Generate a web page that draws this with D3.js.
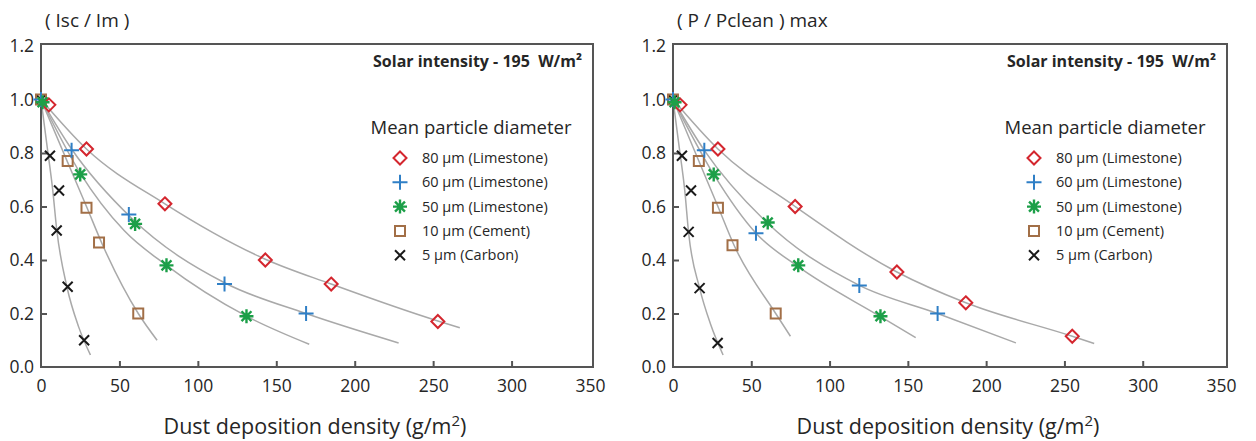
<!DOCTYPE html>
<html>
<head>
<meta charset="utf-8">
<script src="https://cdn.jsdelivr.net/npm/d3@7"></script>
<style>
  body { margin: 0; background: #fff; }
  text { font-family: "Open Sans", sans-serif; fill: #262626; }
</style>
</head>
<body>
<svg id="chart" width="1256" height="441"></svg>
<script>
// series, in legend order
const seriesLabels = ['80 µm (Limestone)', '60 µm (Limestone)', '50 µm (Limestone)', '10 µm (Cement)', '5 µm (Carbon)']
const seriesColors = ['#d4262e', '#2f7fc6', '#1c9f48', '#a26f47', '#1a1a1a']
const seriesShapes = ['diamond', 'plus', 'star', 'square', 'cross']

const xTicks = [0, 50, 100, 150, 200, 250, 300, 350]
const yTicks = [0, 0.2, 0.4, 0.6, 0.8, 1.0, 1.2]

// left panel: Isc / Im measured points
const iscMarkers = [
    [[5, 0.98], [29, 0.815], [79, 0.61], [143, 0.40], [185, 0.31], [253, 0.17]],
    [[0, 1.0], [19.5, 0.81], [56, 0.57], [117, 0.31], [169, 0.20]],
    [[1, 0.99], [25, 0.72], [60, 0.535], [80, 0.38], [131, 0.19]],
    [[0, 1.0], [17, 0.77], [29, 0.595], [37, 0.465], [62, 0.20]],
    [[0, 1.0], [5.7, 0.79], [11.5, 0.66], [10, 0.51], [17, 0.30], [27.5, 0.10]]
]
// left panel: fitted grey curves
const iscFits = [
    [[0, 1], [29, 0.815], [79, 0.61], [143, 0.403], [185, 0.31], [253, 0.172], [267, 0.147]],
    [[0, 1], [19.5, 0.815], [58, 0.555], [117, 0.315], [169, 0.20], [228, 0.09]],
    [[0, 1], [25, 0.725], [53, 0.51], [80, 0.38], [131, 0.19], [171, 0.085]],
    [[0, 1], [17, 0.765], [29, 0.6], [39, 0.46], [62, 0.2], [74, 0.1]],
    [[0, 1], [4, 0.82], [7.5, 0.66], [10, 0.515], [16.5, 0.30], [24, 0.15], [31.5, 0.045]]
]

// right panel: (P / Pclean) max measured points
const powerMarkers = [
    [[4.5, 0.98], [28.7, 0.815], [78, 0.60], [143, 0.355], [187, 0.24], [255, 0.115]],
    [[0, 1.0], [20, 0.81], [53, 0.50], [119, 0.305], [169, 0.20]],
    [[1, 0.99], [26, 0.72], [60.5, 0.54], [80, 0.38], [132.5, 0.19]],
    [[0, 1.0], [16.5, 0.77], [28.7, 0.595], [38, 0.455], [65.6, 0.20]],
    [[0, 1.0], [5.7, 0.79], [11.5, 0.66], [10, 0.505], [17, 0.295], [28.5, 0.09]]
]
const powerFits = [
    [[0, 1], [28.7, 0.815], [78, 0.60], [143, 0.355], [187, 0.24], [255, 0.115], [269, 0.088]],
    [[0, 1], [20, 0.81], [60, 0.54], [119, 0.305], [169, 0.20], [219, 0.09]],
    [[0, 1], [26, 0.72], [53, 0.50], [80, 0.375], [132, 0.19], [155, 0.11]],
    [[0, 1], [16.5, 0.77], [28.7, 0.6], [39, 0.455], [65.6, 0.2], [75, 0.115]],
    [[0, 1], [4, 0.82], [7.5, 0.66], [10, 0.5], [17, 0.295], [24, 0.16], [32, 0.045]]
]

const svg = d3.select('#chart')

const markerPath = (shape, x, y) => {
    const p = d3.path()
    if (shape === 'diamond') {
        const r = 6.5
        p.moveTo(x, y - r); p.lineTo(x + r, y); p.lineTo(x, y + r); p.lineTo(x - r, y); p.closePath()
    } else if (shape === 'plus') {
        const r = 7.5
        p.moveTo(x - r, y); p.lineTo(x + r, y); p.moveTo(x, y - r); p.lineTo(x, y + r)
    } else if (shape === 'star') {
        const r = 7
        for (let i = 0; i < 4; i++) {
            const a = i * Math.PI / 4
            p.moveTo(x - r * Math.cos(a), y - r * Math.sin(a))
            p.lineTo(x + r * Math.cos(a), y + r * Math.sin(a))
        }
    } else if (shape === 'square') {
        p.rect(x - 5, y - 5, 10, 10)
    } else {
        const r = 5
        p.moveTo(x - r, y - r); p.lineTo(x + r, y + r); p.moveTo(x + r, y - r); p.lineTo(x - r, y + r)
    }
    return p.toString()
}

const drawPanel = ({ left, right, boxRight, title, markers, fits }) => {
    const top = 44, bottom = 367
    const x = d3.scaleLinear().domain([0, 350]).range([left, right])
    const y = d3.scaleLinear().domain([0, 1.2]).range([bottom, 46])
    const g = svg.append('g')

    // fitted curves
    g.append('g')
        .selectAll('path')
        .data(fits)
        .join('path')
        .attr('d', d => d3.line().curve(d3.curveMonotoneX).x(p => x(p[0])).y(p => y(p[1]))(d))
        .attr('fill', 'none')
        .attr('stroke', '#a9a9a9')
        .attr('stroke-width', 1.5)

    // frame and inward ticks
    g.append('rect')
        .attr('x', left).attr('y', top)
        .attr('width', boxRight - left).attr('height', bottom - top)
        .attr('fill', 'none').attr('stroke', '#555').attr('stroke-width', 2)

    const xAxis = g.append('g')
        .attr('transform', `translate(0,${bottom})`)
        .call(d3.axisBottom(x).tickValues(xTicks).tickSize(-6).tickPadding(13).tickFormat(d3.format('d')))
    xAxis.select('.domain').remove()
    xAxis.selectAll('.tick line').attr('stroke', '#555').attr('stroke-width', 2)
        .attr('display', d => (d === 0 || d === 350) ? 'none' : null)
    xAxis.selectAll('.tick text').attr('font-size', 17.5).attr('fill', '#262626')
        .style('font-family', '"Open Sans", sans-serif')

    const yAxis = g.append('g')
        .attr('transform', `translate(${left},0)`)
        .call(d3.axisLeft(y).tickValues(yTicks).tickSize(-6).tickPadding(7).tickFormat(d3.format('.1f')))
    yAxis.select('.domain').remove()
    yAxis.selectAll('.tick line').attr('stroke', '#555').attr('stroke-width', 2)
        .attr('display', d => (d === 0 || d === 1.2) ? 'none' : null)
    yAxis.selectAll('.tick text').attr('font-size', 17.5).attr('fill', '#262626')
        .style('font-family', '"Open Sans", sans-serif')

    // markers, green drawn last so it sits on top at the origin
    const order = [4, 3, 1, 0, 2]
    order.forEach(i => {
        g.append('g')
            .selectAll('path')
            .data(markers[i])
            .join('path')
            .attr('d', d => markerPath(seriesShapes[i], x(d[0]), y(d[1])))
            .attr('fill', 'none')
            .attr('stroke', seriesColors[i])
            .attr('stroke-width', seriesShapes[i] === 'star' ? 2.4 : 2)
    })

    // titles
    g.append('text')
        .attr('x', left + 4).attr('y', 27)
        .attr('font-size', 19)
        .text(title)

    const xTitle = g.append('text')
        .attr('x', (left + boxRight) / 2 - 2).attr('y', 434)
        .attr('text-anchor', 'middle')
        .attr('font-size', 21.5)
        .text('Dust deposition density (g/m')
    xTitle.append('tspan').attr('font-size', 15).attr('dy', -8).text('2')
    xTitle.append('tspan').attr('dy', 8).text(')')

    g.append('text')
        .attr('x', boxRight - 11).attr('y', 67)
        .attr('text-anchor', 'end')
        .attr('font-size', 16)
        .attr('font-weight', 'bold')
        .style('white-space', 'pre')
        .text('Solar intensity - 195  W/m²')

    // legend
    const lx = boxRight - 193
    g.append('text')
        .attr('x', boxRight - 122).attr('y', 134)
        .attr('text-anchor', 'middle')
        .attr('font-size', 18.5)
        .text('Mean particle diameter')

    const rows = g.append('g')
        .selectAll('g')
        .data(seriesLabels)
        .join('g')
        .attr('transform', (d, i) => `translate(${lx},${158 + i * 24.3})`)
    rows.append('path')
        .attr('d', (d, i) => markerPath(seriesShapes[i], 0, 0))
        .attr('fill', 'none')
        .attr('stroke', (d, i) => seriesColors[i])
        .attr('stroke-width', (d, i) => seriesShapes[i] === 'star' ? 2.4 : 2)
    rows.append('text')
        .attr('x', 22).attr('y', 5)
        .attr('font-size', 14.5)
        .text(d => d)
}

drawPanel({ left: 41, right: 590, boxRight: 593, title: '( Isc / Im )', markers: iscMarkers, fits: iscFits })
drawPanel({ left: 673, right: 1221, boxRight: 1227, title: '( P / Pclean ) max', markers: powerMarkers, fits: powerFits })
</script>
</body>
</html>
